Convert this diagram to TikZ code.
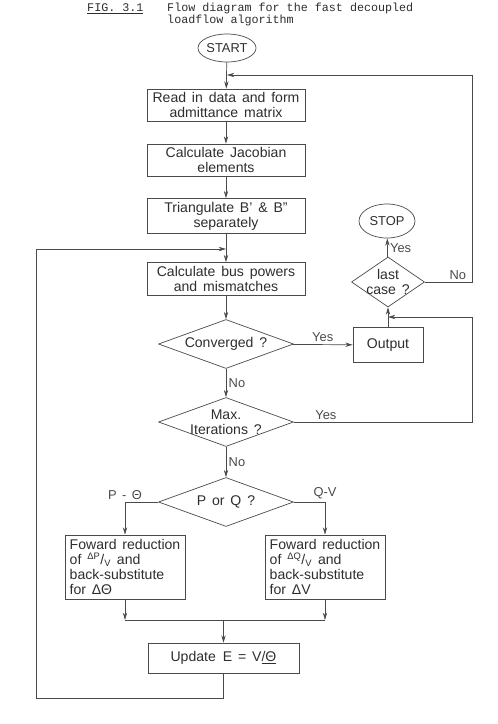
\documentclass[tikz,border=0pt]{standalone}
\usepackage{fontspec}
\setmainfont{Liberation Sans}[WordSpace=1.5]
\newfontfamily\typewr{Liberation Mono}
\usepackage{tikz}
\usetikzlibrary{positioning,arrows.meta,shapes.geometric,calc}
\usepackage{xcolor}
\definecolor{inkline}{HTML}{4A4A4A}
\definecolor{inktext}{HTML}{2E2E2E}

\begin{document}
\begin{tikzpicture}[
      x=0.03cm,y=-0.03cm,
      font=\fontsize{12}{13}\selectfont, text=inktext,
      titletxt/.style={font=\typewr\fontsize{10}{12}\selectfont,inner sep=0pt,anchor=base west},
      termnode/.style={draw=inkline,line width=0.6pt,ellipse,minimum width=1.68cm,minimum height=0.84cm,
                  inner sep=0pt,font=\fontsize{11}{13}\selectfont},
      stepbox/.style={draw=inkline,line width=0.6pt,minimum width=4.74cm,minimum height=0.96cm,
                  align=center,inner sep=2pt},
      decision/.style={draw=inkline,line width=0.6pt,diamond,minimum width=4.05cm,minimum height=1.47cm,
                  aspect=2.75,inner xsep=-4pt,inner ysep=-3pt,align=center},
      solvebox/.style={draw=inkline,line width=0.6pt,minimum width=3.6cm,minimum height=1.92cm,
                  align=left,inner xsep=4pt},
      arr/.style={-{Stealth[length=2.2mm,width=1.3mm]},line width=0.6pt,inkline},
      ln/.style={line width=0.6pt,inkline},
      lbl/.style={font=\fontsize{11}{13}\selectfont,inner sep=2pt}]
    \useasboundingbox (0,0) rectangle (497,724);
    \node[titletxt] (figno) at (87,11) {\underline{FIG. 3.1}};
    \node[titletxt] (title1) at (167,11) {Flow diagram for the fast decoupled};
    \node[titletxt] (title2) at (167,23.5) {loadflow algorithm};

    \node[termnode] (start) at (227,48) {START};
    \node[stepbox] (read) at (226,105) {Read in data and form\\admittance matrix};
    \node[stepbox] (jacob) at (226,160) {Calculate Jacobian\\elements};
    \node[stepbox,minimum height=1.05cm] (triang) at (226,216) {Triangulate B' \& B''\\separately};
    \node[stepbox,minimum height=0.99cm] (bus) at (226,279) {Calculate bus powers\\and mismatches};
    \node[decision] (conv) at (226,344) {Converged ?};
    \node[decision] (maxit) at (226,422) {Max.\\Iterations ?};
    \node[decision] (porq) at (226,502) {P or Q ?};
    \node[stepbox,minimum width=2.1cm,minimum height=1.05cm] (out) at (388,345) {Output};
    \node[decision,minimum width=2.19cm,minimum height=1.5cm,aspect=1.46] (last) at (388,282) {last\\case ?};
    \node[termnode,minimum height=1.02cm] (stop) at (387,221) {STOP};
    \node[solvebox] (fwdp) at (125,567) {Foward reduction\\of \textsuperscript{ΔP}/\textsubscript{V} and\\back-substitute\\for ΔΘ};
    \node[solvebox] (fwdq) at (325,567) {Foward reduction\\of \textsuperscript{ΔQ}/\textsubscript{V} and\\back-substitute\\for ΔV};
    \node[stepbox,minimum width=4.53cm,minimum height=0.9cm] (upd) at (223.5,658) {Update\enspace E = V\underline{/Θ}};

    \draw[arr] (start) -- (read);
    \draw[arr] (read) -- (jacob);
    \draw[arr] (jacob) -- (triang);
    \draw[arr] (triang) -- (bus);
    \draw[arr] (bus) -- (conv);
    \draw[arr] (conv) -- node[lbl,right] {No} (maxit);
    \draw[arr] (maxit) -- node[lbl,right] {No} (porq);
    \draw[arr] (conv) -- node[lbl,above] {Yes} (out);
    \draw[arr] (out) -- (last);
    \draw[arr] (last) -- node[lbl,right,pos=0.45] {Yes} (stop);
    \coordinate (noR) at (472,75);
    \draw[arr] (last.east) -| node[lbl,above,pos=0.35] {No} (noR) -- (start.south |- noR);
    \coordinate (mxR) at (472,317);
    \draw[arr] (maxit.east) -| node[lbl,above,pos=0.09] {Yes} (mxR) -- (out.north |- mxR);
    \draw[arr] (porq.west) -| node[lbl,above] {P - Θ} (fwdp.north);
    \draw[arr] (porq.east) -| node[lbl,above] {Q-V} (fwdq.north);
    \coordinate (jn) at (223.5,620);
    \draw[arr] (fwdp.south) -- (fwdp.south |- jn);
    \draw[arr] (fwdq.south) -- (fwdq.south |- jn);
    \draw[ln] (fwdp.south |- jn) -- (fwdq.south |- jn);
    \draw[arr] (jn) -- (upd.north);
    \coordinate (lpB) at (36,698);
    \coordinate (lpT) at (36,249);
    \draw[arr] (upd.south) |- (lpB) -- (lpT) -- (bus.north |- lpT);
  \end{tikzpicture}
\end{document}
